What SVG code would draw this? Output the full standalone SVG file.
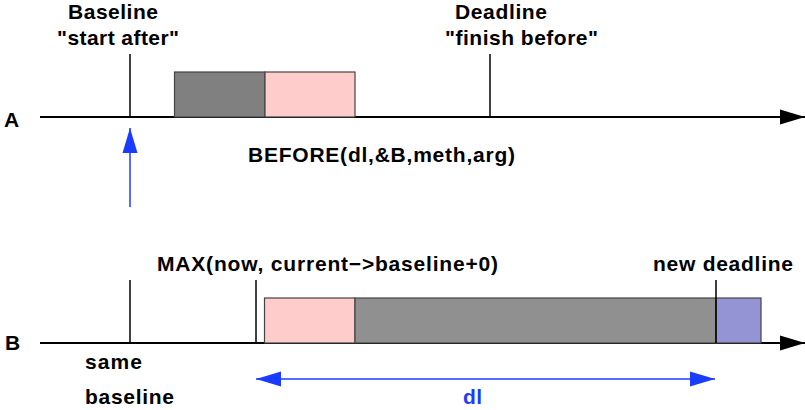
<svg xmlns="http://www.w3.org/2000/svg" width="805" height="410" viewBox="0 0 805 410">
<style>
text{font-family:"Liberation Sans",Arial,sans-serif;font-weight:bold;font-size:21px;fill:#000}
.axis{stroke:#000;stroke-width:2;fill:none}
.tick{stroke:#000;stroke-width:1.5;fill:none}
.box{stroke:#444;stroke-width:1.2}
.blue{stroke:#1a3cff;stroke-width:1.5;fill:none}
</style>
<defs>
<marker id="ah" markerUnits="userSpaceOnUse" markerWidth="26" markerHeight="16" refX="25" refY="8" orient="auto"><path d="M0,0.5 L25,8 L0,15.5 Z" fill="#000"/></marker>
<marker id="bh" markerUnits="userSpaceOnUse" markerWidth="26" markerHeight="16" refX="25" refY="8" orient="auto-start-reverse"><path d="M0,0.5 L25,8 L0,15.5 Z" fill="#1a3cff"/></marker>
</defs>
<g id="connectors">
<line class="axis" x1="40" y1="117" x2="805" y2="117" marker-end="url(#ah)"/>
<line class="axis" x1="40" y1="343" x2="805" y2="343" marker-end="url(#ah)"/>
<line class="blue" x1="130" y1="207" x2="130" y2="128" marker-end="url(#bh)"/>
<line class="blue" x1="256" y1="379" x2="715" y2="379" marker-start="url(#bh)" marker-end="url(#bh)"/>
</g>
<g id="labelA"><text x="4" y="127" textLength="15">A</text></g>
<g id="labelB"><text x="5" y="350" textLength="14">B</text></g>
<g id="baselineA">
<line class="tick" x1="130" y1="54" x2="130" y2="117"/>
<text x="68" y="19" textLength="90">Baseline</text>
<text x="57" y="45" textLength="122">"start after"</text>
</g>
<g id="deadlineA">
<line class="tick" x1="490" y1="54" x2="490" y2="117"/>
<text x="455" y="19" textLength="92">Deadline</text>
<text x="445" y="45" textLength="153">"finish before"</text>
</g>
<g id="taskA">
<rect class="box" x="174.5" y="72" width="90.5" height="45" fill="#808080"/>
<rect class="box" x="265" y="72" width="90" height="45" fill="#ffcccc"/>
</g>
<g id="beforeCall"><text x="248" y="162" textLength="267">BEFORE(dl,&amp;B,meth,arg)</text></g>
<g id="baselineB">
<line class="tick" x1="130" y1="280" x2="130" y2="343"/>
<text x="85" y="369" textLength="57">same</text>
<text x="85" y="404" textLength="89">baseline</text>
</g>
<g id="maxB">
<line class="tick" x1="256" y1="280" x2="256" y2="343"/>
<text x="157" y="271" textLength="341">MAX(now, current−&gt;baseline+0)</text>
</g>
<g id="taskB">
<rect class="box" x="264.5" y="298" width="90.5" height="45" fill="#ffcccc"/>
<rect class="box" x="355" y="298" width="361" height="45" fill="#909090"/>
<rect class="box" x="716" y="298" width="45" height="45" fill="#9494d4"/>
</g>
<g id="newDeadline">
<line class="tick" x1="716" y1="280" x2="716" y2="343"/>
<text x="653" y="271" textLength="140">new deadline</text>
</g>
<g id="dlLabel"><text x="463" y="404" textLength="19" style="fill:#1a3cff">dl</text></g>
</svg>
